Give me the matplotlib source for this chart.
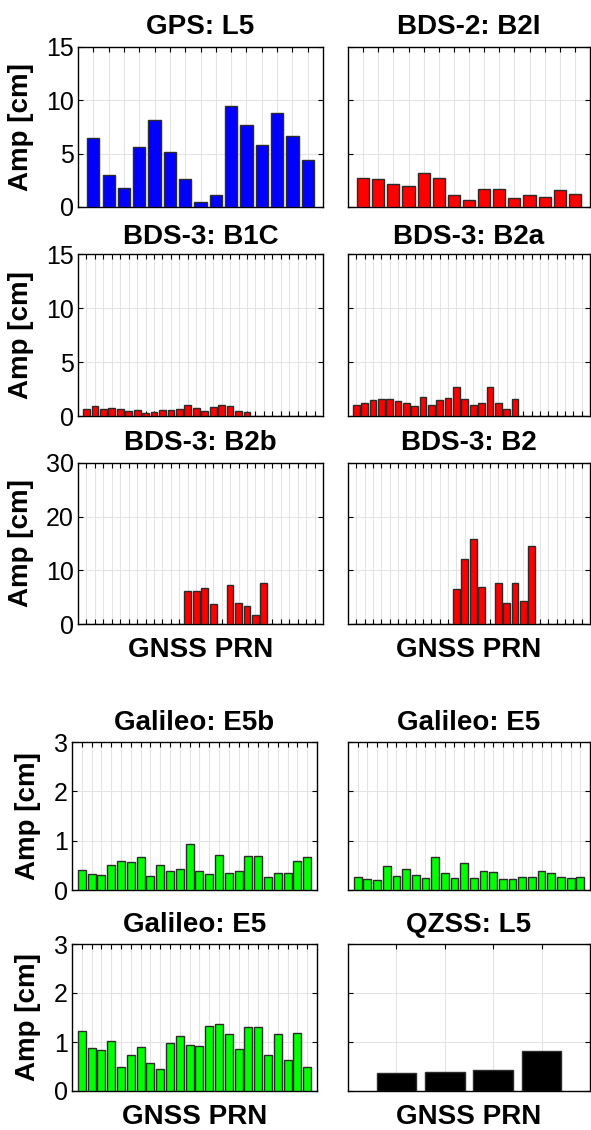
import matplotlib.pyplot as plt
import numpy as np

plt.rcParams['font.family'] = ['Liberation Sans', 'DejaVu Sans']

# Data (amplitudes in cm)
gps_l5 = [6.45, 2.96, 1.78, 5.64, 8.13, 5.17, 2.65, 0.50, 1.09, 9.50, 7.69, 5.83, 8.82, 6.70, 4.45]
bds2_b2i = [2.74, 2.62, 2.18, 1.93, 3.15, 2.68, 1.15, 0.62, 1.65, 1.65, 0.84, 1.09, 0.97, 1.56, 1.25]
bds3_b1c = [0.68, 0.96, 0.62, 0.71, 0.65, 0.43, 0.56, 0.28, 0.37, 0.56, 0.56, 0.65, 1.05, 0.71,
            0.50, 0.87, 1.05, 0.96, 0.50, 0.40, 0, 0, 0, 0, 0, 0, 0, 0]
bds3_b2a = [1.05, 1.21, 1.46, 1.55, 1.55, 1.36, 1.18, 0.90, 1.74, 0.99, 1.52, 1.70, 2.73, 1.55,
            0.99, 1.24, 2.67, 1.18, 0.62, 1.61, 0, 0, 0, 0, 0, 0, 0, 0]
bds3_b2b = [0, 0, 0, 0, 0, 0, 0, 0, 0, 0, 0, 0, 6.20, 6.08, 6.70, 3.66,
            0, 7.19, 3.97, 3.35, 1.61, 7.56, 0, 0, 0, 0, 0, 0]
bds3_b2 = [0, 0, 0, 0, 0, 0, 0, 0, 0, 0, 0, 0, 6.45, 12.15, 15.87, 6.94,
           0, 7.56, 3.91, 7.69, 4.34, 14.45, 0, 0, 0, 0, 0, 0]
gal_e5b = [0.40, 0.33, 0.30, 0.51, 0.58, 0.56, 0.66, 0.28, 0.50, 0.385, 0.42, 0.93, 0.38, 0.32,
           0.71, 0.35, 0.385, 0.69, 0.69, 0.26, 0.35, 0.345, 0.58, 0.66]
gal_e5_a = [0.27, 0.22, 0.20, 0.49, 0.29, 0.42, 0.30, 0.24, 0.67, 0.35, 0.24, 0.55, 0.24, 0.38,
            0.36, 0.22, 0.23, 0.26, 0.26, 0.38, 0.34, 0.26, 0.24, 0.26]
gal_e5_b = [1.22, 0.87, 0.83, 1.02, 0.48, 0.73, 0.90, 0.58, 0.44, 0.97, 1.13, 0.93, 0.92, 1.32,
            1.36, 1.17, 0.85, 1.30, 1.30, 0.73, 1.16, 0.64, 1.19, 0.50]
qzss_l5 = [0.37, 0.39, 0.42, 0.82]

W, H = 591, 1130
fig = plt.figure(figsize=(W / 100, H / 100), dpi=100)


def px_axes(left, top, right, bottom):
    return fig.add_axes([left / W, 1 - bottom / H, (right - left) / W, (bottom - top) / H])


def panel(box, values, color, title, ylim, yticks, left_col, xlabel=False,
          title_pad=9, width=0.8, ylab_x=-0.18, xlab_y=-0.08):
    ax = px_axes(*box)
    x = np.arange(1, len(values) + 1)
    ax.bar(x, values, width=width, color=color, edgecolor='#2b2b2b', linewidth=1.0, zorder=3)
    ax.set_xlim(0, len(values) + 1)
    ax.set_xticks(x)
    ax.set_xticklabels([])
    ax.set_ylim(*ylim)
    ax.set_yticks(yticks)
    ax.grid(True, color='#e3e3e3', linewidth=0.8, zorder=0)
    ax.set_axisbelow(True)
    ax.tick_params(direction='in', top=True, right=True, length=3.5, width=0.8,
                   labelsize=18, pad=3)
    if left_col:
        ax.set_ylabel('Amp [cm]', fontsize=20, fontweight='bold')
        ax.yaxis.set_label_coords(ylab_x, 0.5)
    else:
        ax.set_yticklabels([])
    if xlabel:
        ax.set_xlabel('GNSS PRN', fontsize=20, fontweight='bold')
        ax.xaxis.set_label_coords(0.5, xlab_y)
    ax.set_title(title, fontsize=20, fontweight='bold', pad=title_pad)
    for s in ax.spines.values():
        s.set_linewidth(1.0)
    return ax


blue, red, green = '#0000ff', '#ff0000', '#00ff00'

panel((78, 47, 323, 207), gps_l5, blue, 'GPS: L5', (0, 15), [0, 5, 10, 15], True)
panel((348, 47, 590, 207), bds2_b2i, red, 'BDS-2: B2I', (0, 15), [0, 5, 10, 15], False)

panel((78, 254, 323, 416), bds3_b1c, red, 'BDS-3: B1C', (0, 15), [0, 5, 10, 15], True, title_pad=7)
panel((348, 254, 590, 416), bds3_b2a, red, 'BDS-3: B2a', (0, 15), [0, 5, 10, 15], False, title_pad=7)

panel((78, 463, 323, 624), bds3_b2b, red, 'BDS-3: B2b', (0, 30), [0, 10, 20, 30], True,
      xlabel=True, xlab_y=-0.08)
panel((348, 463, 590, 624), bds3_b2, red, 'BDS-3: B2', (0, 30), [0, 10, 20, 30], False,
      xlabel=True, xlab_y=-0.08)

panel((72, 742, 317, 890), gal_e5b, green, 'Galileo: E5b', (0, 3), [0, 1, 2, 3], True,
      ylab_x=-0.125)
panel((348, 742, 590, 890), gal_e5_a, green, 'Galileo: E5', (0, 3), [0, 1, 2, 3], False)

panel((72, 944, 317, 1091), gal_e5_b, green, 'Galileo: E5', (0, 3), [0, 1, 2, 3], True,
      xlabel=True, ylab_x=-0.125, xlab_y=-0.09)
panel((348, 944, 590, 1091), qzss_l5, 'black', 'QZSS: L5', (0, 3), [0, 1, 2, 3], False,
      xlabel=True, width=0.82, xlab_y=-0.09)

fig.savefig('out.png', dpi=100)
